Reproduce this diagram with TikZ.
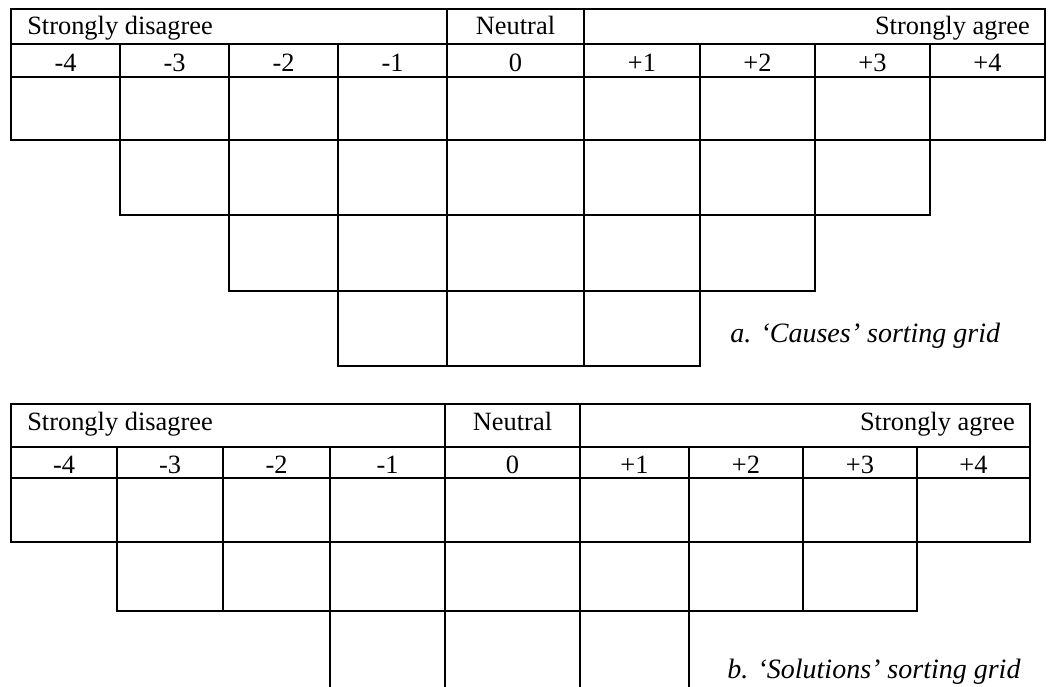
\documentclass[tikz,border=0pt]{standalone}
\usepackage{fontspec}
\setmainfont{Liberation Serif}
\begin{document}
\begin{tikzpicture}[x=0.75pt,y=-0.75pt,font=\fontsize{19.8}{24}\selectfont]
	% Styles (MODIFIABLES)
	\tikzstyle{trait}=[line width=1.5pt,line cap=rect]
	\tikzstyle{chiffre}=[inner sep=0pt,anchor=base]
	\tikzstyle{gauche}=[inner sep=0pt,anchor=base west]
	\tikzstyle{droite}=[inner sep=0pt,anchor=base east]
	\tikzstyle{legende}=[inner sep=0pt,anchor=base west,font=\fontsize{21}{25}\selectfont\itshape]
	% Cadre
	\useasboundingbox (0,0) rectangle (1048,686);
	% Dimensions grille a (MODIFIABLES)
	\def\aA{11}\def\aB{120}\def\aC{229}\def\aD{338}\def\aE{447}
	\def\aF{584}\def\aG{700}\def\aH{815}\def\aI{930}\def\aJ{1045}
	% Dimensions grille b (MODIFIABLES)
	\def\bA{11}\def\bB{117}\def\bC{223}\def\bD{330}\def\bE{445}
	\def\bF{580}\def\bG{689}\def\bH{803}\def\bI{917}\def\bJ{1030}
	% Grille a : lignes horizontales
	\draw[trait] (\aA,9) -- (\aJ,9);
	\draw[trait] (\aA,44) -- (\aJ,44);
	\draw[trait] (\aA,77) -- (\aJ,77);
	\draw[trait] (\aA,140) -- (\aJ,140);
	\draw[trait] (\aB,215) -- (\aI,215);
	\draw[trait] (\aC,291) -- (\aH,291);
	\draw[trait] (\aD,366) -- (\aG,366);
	% Grille a : lignes verticales
	\draw[trait] (\aA,9) -- (\aA,140);
	\draw[trait] (\aB,44) -- (\aB,215);
	\draw[trait] (\aC,44) -- (\aC,291);
	\draw[trait] (\aD,44) -- (\aD,366);
	\draw[trait] (\aE,9) -- (\aE,366);
	\draw[trait] (\aF,9) -- (\aF,366);
	\draw[trait] (\aG,44) -- (\aG,366);
	\draw[trait] (\aH,44) -- (\aH,291);
	\draw[trait] (\aI,44) -- (\aI,215);
	\draw[trait] (\aJ,9) -- (\aJ,140);
	% Grille a : textes
	\node[gauche] (desaccordA) at (27,34) {Strongly disagree};
	\node[chiffre] (neutreA) at ({(\aE+\aF)/2},34) {Neutral};
	\node[droite] (accordA) at (1030,34) {Strongly agree};
	\node[chiffre] (moinsQuatreA) at ({(\aA+\aB)/2},71) {-4};
	\node[chiffre] (moinsTroisA) at ({(\aB+\aC)/2},71) {-3};
	\node[chiffre] (moinsDeuxA) at ({(\aC+\aD)/2},71) {-2};
	\node[chiffre] (moinsUnA) at ({(\aD+\aE)/2},71) {-1};
	\node[chiffre] (zeroA) at ({(\aE+\aF)/2},71) {0};
	\node[chiffre] (plusUnA) at ({(\aF+\aG)/2},71) {+1};
	\node[chiffre] (plusDeuxA) at ({(\aG+\aH)/2},71) {+2};
	\node[chiffre] (plusTroisA) at ({(\aH+\aI)/2},71) {+3};
	\node[chiffre] (plusQuatreA) at ({(\aI+\aJ)/2},71) {+4};
	\node[legende] (legendeA) at (730,342) {a. ‘Causes’ sorting grid};
	% Grille b : lignes horizontales
	\draw[trait] (\bA,404) -- (\bJ,404);
	\draw[trait] (\bA,447) -- (\bJ,447);
	\draw[trait] (\bA,478) -- (\bJ,478);
	\draw[trait] (\bA,542) -- (\bJ,542);
	\draw[trait] (\bB,611) -- (\bI,611);
	% Grille b : lignes verticales
	\draw[trait] (\bA,404) -- (\bA,542);
	\draw[trait] (\bB,447) -- (\bB,611);
	\draw[trait] (\bC,447) -- (\bC,611);
	\draw[trait] (\bD,447) -- (\bD,690);
	\draw[trait] (\bE,404) -- (\bE,690);
	\draw[trait] (\bF,404) -- (\bF,690);
	\draw[trait] (\bG,447) -- (\bG,690);
	\draw[trait] (\bH,447) -- (\bH,611);
	\draw[trait] (\bI,447) -- (\bI,611);
	\draw[trait] (\bJ,404) -- (\bJ,542);
	% Grille b : textes
	\node[gauche] (desaccordB) at (27,430) {Strongly disagree};
	\node[chiffre] (neutreB) at ({(\bE+\bF)/2},430) {Neutral};
	\node[droite] (accordB) at (1015,430) {Strongly agree};
	\node[chiffre] (moinsQuatreB) at ({(\bA+\bB)/2},473) {-4};
	\node[chiffre] (moinsTroisB) at ({(\bB+\bC)/2},473) {-3};
	\node[chiffre] (moinsDeuxB) at ({(\bC+\bD)/2},473) {-2};
	\node[chiffre] (moinsUnB) at ({(\bD+\bE)/2},473) {-1};
	\node[chiffre] (zeroB) at ({(\bE+\bF)/2},473) {0};
	\node[chiffre] (plusUnB) at ({(\bF+\bG)/2},473) {+1};
	\node[chiffre] (plusDeuxB) at ({(\bG+\bH)/2},473) {+2};
	\node[chiffre] (plusTroisB) at ({(\bH+\bI)/2},473) {+3};
	\node[chiffre] (plusQuatreB) at ({(\bI+\bJ)/2},473) {+4};
	\node[legende] (legendeB) at (727,678) {b. ‘Solutions’ sorting grid};
\end{tikzpicture}
\end{document}
